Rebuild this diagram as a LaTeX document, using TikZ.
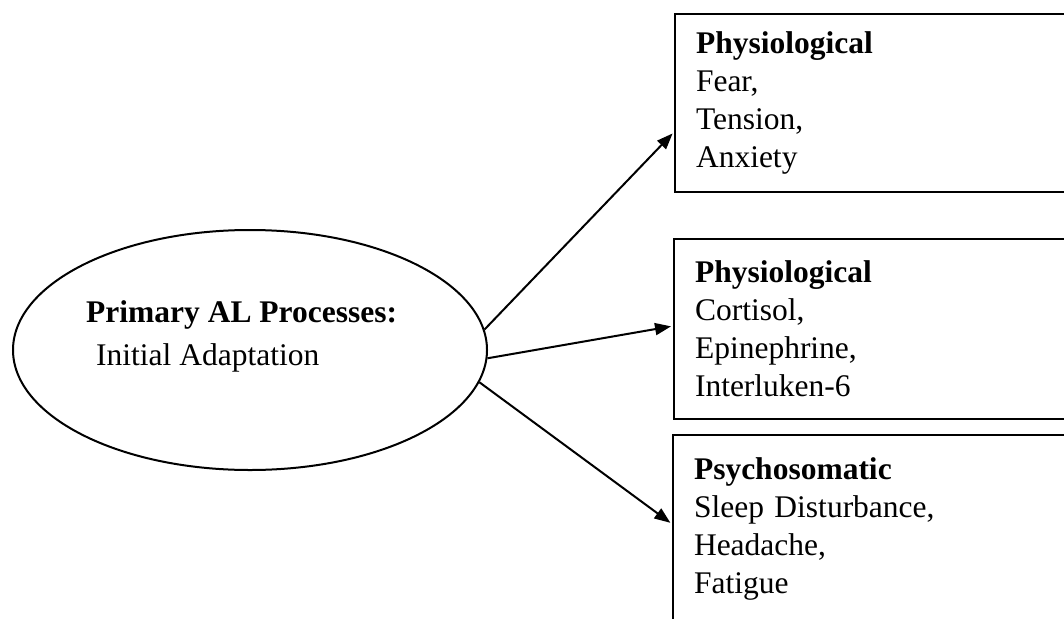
\documentclass[tikz,border=0pt]{standalone}
\usepackage{fontspec}
\setmainfont{Liberation Serif}
\usetikzlibrary{shapes.geometric,arrows.meta}
\tikzset{
  box/.style={draw,line width=2pt,anchor=north west,align=left,
    text width=380pt,inner xsep=21pt,inner ysep=0pt,
    font=\fontsize{31.5pt}{38pt}\selectfont},
  arr/.style={-{Triangle[length=16pt,width=12pt]},line width=2pt,shorten >=2pt}
}
\begin{document}
\begin{tikzpicture}[x=1pt,y=-1pt]
  \useasboundingbox (0,0) rectangle (1064,618);
  \clip (0,0) rectangle (1064,618);
  \node[draw,ellipse,line width=2pt,minimum width=474pt,minimum height=240pt] (ell) at (250,350) {};
  \node[anchor=north west,align=left,inner sep=0pt,
    font=\fontsize{31.5pt}{43pt}\selectfont] (elltext) at (86,300)
    {\textbf{Primary AL Processes:}\\\hspace*{10pt}Initial Adaptation};
  \node[box,minimum height=178pt] (box1) at (674,13)
    {\textbf{Physiological}\\Fear,\\Tension,\\Anxiety};
  \node[box,minimum height=180pt] (box2) at (673,238)
    {\textbf{Physiological}\\Cortisol,\\Epinephrine,\\Interluken-6};
  \node[box,minimum height=188pt] (box3) at (672,434)
    {\textbf{Psychosomatic}\\Sleep Disturbance,\\Headache,\\Fatigue};
  \begin{scope}
    \draw[arr] (ell.5.9) -- ([yshift=-29pt]box1.west);
    \draw[arr] (ell.-2.9) -- ([yshift=3pt]box2.west);
    \draw[arr] (ell.-8.8) -- ([yshift=5pt]box3.west);
  \end{scope}
\end{tikzpicture}
\end{document}
